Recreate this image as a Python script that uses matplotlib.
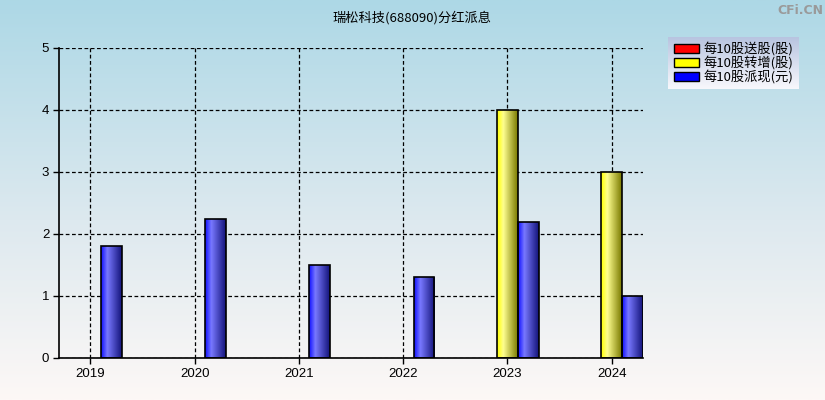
import numpy as np
import matplotlib
matplotlib.use("Agg")
import matplotlib.pyplot as plt
from matplotlib.colors import LinearSegmentedColormap
from matplotlib.patches import Patch

plt.rcParams['font.family'] = ['Noto Sans CJK SC', 'DejaVu Sans']

years = ['2019', '2020', '2021', '2022', '2023', '2024']
song = [0, 0, 0, 0, 0, 0]          # 每10股送股(股)
zhuan = [0, 0, 0, 0, 4, 3]         # 每10股转增(股)
pai = [1.8, 2.24, 1.5, 1.3, 2.2, 1.0]  # 每10股派现(元)
labels = ['每10股送股(股)', '每10股转增(股)', '每10股派现(元)']
title = '瑞松科技(688090)分红派息'

W, H = 825, 400
fig = plt.figure(figsize=(W / 100, H / 100), dpi=100)

# background gradient
bg = fig.add_axes([0, 0, 1, 1], zorder=-10)
grad = np.linspace(0, 1, 256).reshape(-1, 1)
bg_cmap = LinearSegmentedColormap.from_list('bg', [(0, '#add8e6'), (0.55, '#dde9ef'), (1, '#fdf8f6')])
bg.imshow(grad, aspect='auto', cmap=bg_cmap, extent=[0, 1, 0, 1], origin='upper')
bg.set_axis_off()

ax = fig.add_axes([59 / W, 1 - 358 / H, (643 - 59) / W, (358 - 48) / H])
ax.patch.set_alpha(0)

x = np.arange(len(years))
w = 0.2

cmaps = {
    'red': LinearSegmentedColormap.from_list('r', [(0, '#ff0000'), (0.3, '#ff8080'), (1, '#800000')]),
    'yellow': LinearSegmentedColormap.from_list('y', [(0, '#ffff00'), (0.3, '#ffff90'), (1, '#7a7a00')]),
    'blue': LinearSegmentedColormap.from_list('b', [(0, '#1010ff'), (0.3, '#7878ff'), (1, '#14147a')]),
}
hgrad = np.linspace(0, 1, 64).reshape(1, -1)

series = [(song, -w, 'red'), (zhuan, 0, 'yellow'), (pai, w, 'blue')]
for vals, off, col in series:
    bars = ax.bar(x + off, vals, width=w, color='none', edgecolor='black', linewidth=1.2, zorder=3)
    for b, v in zip(bars, vals):
        if v <= 0:
            b.set_visible(False)
            continue
        im = ax.imshow(hgrad, aspect='auto', cmap=cmaps[col],
                       extent=[b.get_x(), b.get_x() + b.get_width(), 0, v],
                       zorder=2.5)
        im.set_clip_path(b)

ax.set_xlim(-0.3, 5.3)
ax.set_ylim(0, 5)
ax.set_xticks(x)
ax.set_xticklabels(years)
ax.set_yticks([0, 1, 2, 3, 4, 5])
ax.grid(True, color='black', linestyle=(0, (3, 2)), linewidth=0.9, zorder=1)
ax.set_axisbelow(True)
for s in ['top', 'right']:
    ax.spines[s].set_visible(False)
for s in ['left', 'bottom']:
    ax.spines[s].set_linewidth(1.2)
ax.tick_params(axis='both', length=4, width=1, labelsize=9.5, color='black', pad=3)
for t in ax.get_xticklabels() + ax.get_yticklabels():
    t.set_family(['Liberation Sans'])

fig.text(412 / W, 1 - 18 / H, title, ha='center', va='center', fontsize=9.5)
fig.text(823 / W, 1 - 10 / H, 'CFi.CN', ha='right', va='center', fontsize=9,
         fontweight='bold', color='#9a9a9a', family=['DejaVu Sans'])

# legend
lax = fig.add_axes([668 / W, 1 - 89 / H, (799 - 668) / W, (89 - 37) / H])
lgrad = np.linspace(0, 1, 64).reshape(-1, 1)
lcm = LinearSegmentedColormap.from_list('l', ['#b8c4e0', '#f8f8fc'])
lax.imshow(lgrad, aspect='auto', cmap=lcm, extent=[0, 1, 0, 1], origin='upper')
lax.set_xlim(0, 1)
lax.set_ylim(0, 1)
lax.set_axis_off()
handles = [Patch(facecolor=c, edgecolor='black', linewidth=1) for c in ['#ff0000', '#ffff00', '#0000ff']]
lax.legend(handles, labels, loc='center', frameon=False, fontsize=9.5,
           handlelength=1.9, handleheight=0.75, handletextpad=0.3, labelspacing=0.0,
           borderpad=0.1)

fig.savefig('out.png', dpi=100)
